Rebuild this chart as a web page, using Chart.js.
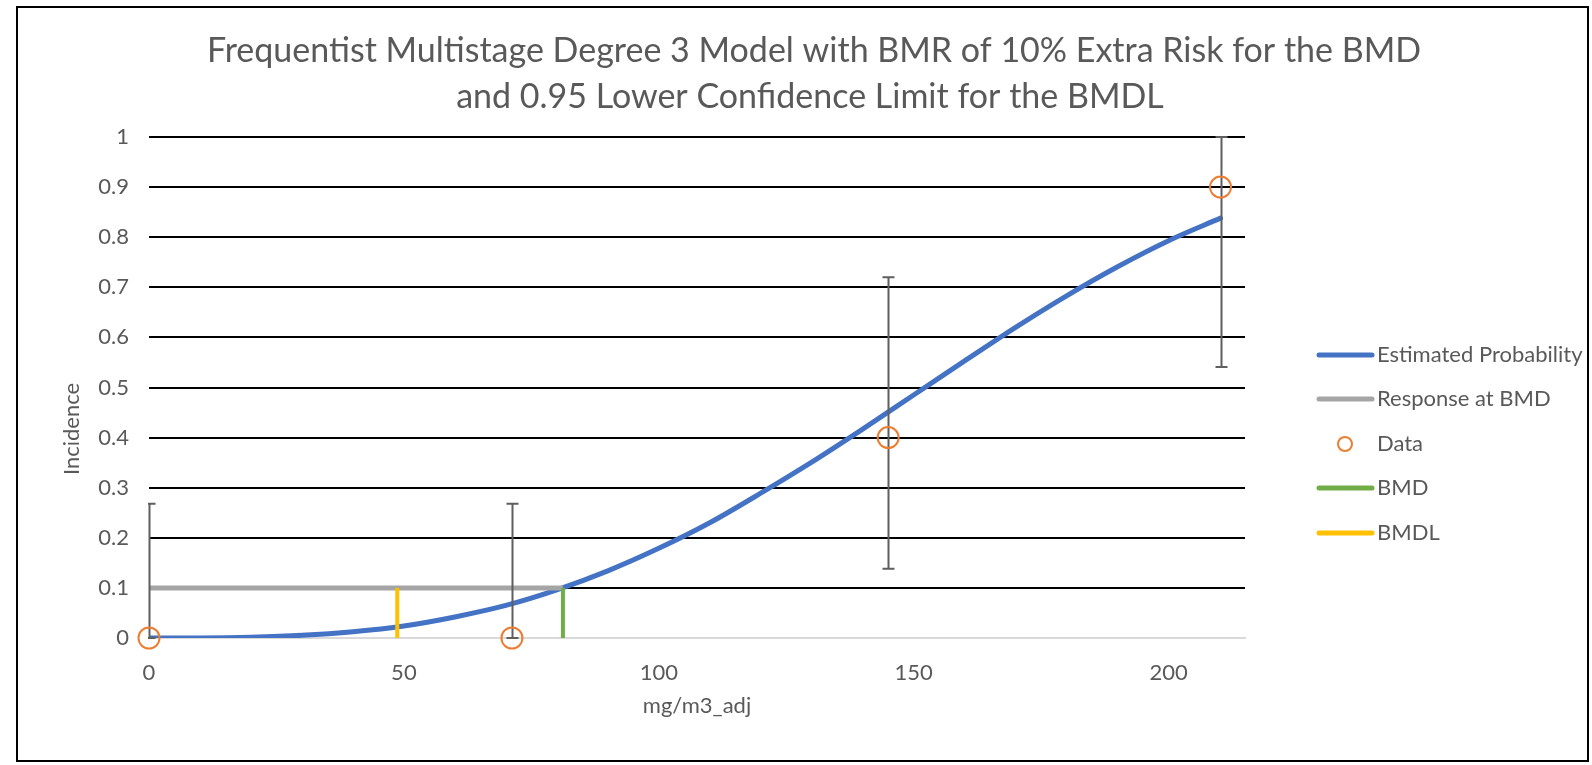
<!DOCTYPE html>
<html><head><meta charset="utf-8">
<script src="https://cdn.jsdelivr.net/npm/chart.js@4.4.1/dist/chart.umd.min.js"></script>
<style>html,body{margin:0;padding:0;background:#fff;}canvas{display:block;}</style>
</head><body>
<canvas id="c" width="1592" height="765"></canvas>
<script>
// ---- data ----
const titleLines = ["Frequentist Multistage Degree 3 Model with BMR of 10% Extra Risk for the BMD", "and 0.95 Lower Confidence Limit for the BMDL"];
const xTitle = "mg/m3_adj";
const yTitle = "Incidence";
const seriesNames = ["Estimated Probability", "Response at BMD", "Data", "BMD", "BMDL"];
const curveDose = [0, 10, 20, 30, 40, 50, 60, 70, 80, 90, 100, 110, 120, 130, 140, 150, 160, 170, 180, 190, 200, 210.2];
const curveProb = [0, 0.0002, 0.0016, 0.0053, 0.0125, 0.024, 0.042, 0.065, 0.096, 0.134, 0.179, 0.230, 0.289, 0.351, 0.417, 0.485, 0.553, 0.620, 0.683, 0.741, 0.793, 0.838];
const dataDose = [0, 71.2, 145, 210.2];
const dataIncidence = [0, 0, 0.4, 0.9];
const errLower = [0, 0, 0.138, 0.541];
const errUpper = [0.268, 0.268, 0.72, 1.0];
const bmd = 81.2;
const bmdl = 48.7;
const bmr = 0.1;
const xTicks = [0, 50, 100, 150, 200];
const yTicks = [0, 0.1, 0.2, 0.3, 0.4, 0.5, 0.6, 0.7, 0.8, 0.9, 1];
const colors = ["#4472C4", "#A5A5A5", "#ED7D31", "#70AD47", "#FFC000"];

const FONT = "Lato";
const TXT = "#595959";

const errorBarPlugin = {
  id: 'errbars',
  beforeDatasetDraw(chart, args) {
    if (args.index !== 2) return;
    const {ctx, chartArea} = chart;
    const xs = chart.scales.x, ys = chart.scales.y;
    ctx.save();
    ctx.beginPath();
    ctx.rect(chartArea.left - 1, 0, chartArea.right - chartArea.left + 2, chart.height);
    ctx.clip();
    ctx.strokeStyle = "#5f5f5f";
    ctx.lineWidth = 2;
    dataDose.forEach((d, i) => {
      const x = Math.round(xs.getPixelForValue(d)) + 0.5;
      const y1 = ys.getPixelForValue(errLower[i]);
      const y2 = ys.getPixelForValue(errUpper[i]);
      ctx.beginPath();
      ctx.moveTo(x, y1); ctx.lineTo(x, y2);
      ctx.moveTo(x - 6, y1); ctx.lineTo(x + 6, y1);
      ctx.moveTo(x - 6, y2); ctx.lineTo(x + 6, y2);
      ctx.stroke();
    });
    ctx.restore();
  }
};

const decorPlugin = {
  id: 'decor',
  afterDraw(chart) {
    const ctx = chart.ctx;
    const ca = chart.chartArea;
    ctx.save();
    // border
    ctx.strokeStyle = "#000";
    ctx.lineWidth = 2;
    ctx.strokeRect(17, 7, 1571, 754);
    // title
    ctx.fillStyle = TXT;
    ctx.font = "34px " + FONT;
    ctx.textAlign = "center";
    ctx.textBaseline = "alphabetic";
    ctx.fillText(titleLines[0], 814, 62);
    ctx.fillText(titleLines[1], 810, 108);
    // axis titles
    ctx.font = "22px " + FONT;
    ctx.textBaseline = "middle";
    ctx.fillText(xTitle, (ca.left + ca.right) / 2, 706);
    ctx.save();
    ctx.translate(72, 429);
    ctx.rotate(-Math.PI / 2);
    ctx.fillText(yTitle, 0, 0);
    ctx.restore();
    // legend
    const ys = [355, 399, 444, 488, 533];
    ctx.font = "22px " + FONT;
    ctx.textAlign = "left";
    ctx.textBaseline = "middle";
    seriesNames.forEach((name, i) => {
      const y = ys[i];
      if (i === 2) {
        ctx.strokeStyle = colors[i];
        ctx.lineWidth = 2;
        ctx.beginPath();
        ctx.arc(1345, y, 7, 0, Math.PI * 2);
        ctx.stroke();
      } else {
        ctx.strokeStyle = colors[i];
        ctx.lineWidth = 5;
        ctx.lineCap = "round";
        ctx.beginPath();
        ctx.moveTo(1319, y); ctx.lineTo(1372, y);
        ctx.stroke();
      }
      ctx.fillStyle = TXT;
      ctx.fillText(name, 1377, y);
    });
    ctx.restore();
  }
};

new Chart(document.getElementById('c'), {
  type: 'line',
  data: {
    datasets: [
      { label: seriesNames[0], data: curveDose.map((x, i) => ({x, y: curveProb[i]})), borderColor: colors[0], borderWidth: 5, pointRadius: 0, cubicInterpolationMode: 'monotone', order: 5, borderCapStyle: 'round' },
      { label: seriesNames[1], data: [{x: 0, y: bmr}, {x: bmd, y: bmr}], borderColor: colors[1], borderWidth: 5, pointRadius: 0, order: 4 },
      { label: seriesNames[2], data: dataDose.map((x, i) => ({x, y: dataIncidence[i]})), showLine: false, borderColor: colors[2], backgroundColor: 'rgba(0,0,0,0)', pointRadius: 10.5, pointBorderWidth: 2, pointStyle: 'circle', order: 1, clip: false },
      { label: seriesNames[3], data: [{x: bmd, y: 0}, {x: bmd, y: bmr}], borderColor: colors[3], borderWidth: 4, pointRadius: 0, order: 3, borderCapStyle: 'butt' },
      { label: seriesNames[4], data: [{x: bmdl, y: 0}, {x: bmdl, y: bmr}], borderColor: colors[4], borderWidth: 4, pointRadius: 0, order: 2, borderCapStyle: 'butt' }
    ]
  },
  options: {
    responsive: false,
    animation: false,
    events: [],
    layout: { padding: { left: 16, top: 137, right: 347, bottom: 5 } },
    plugins: { legend: { display: false }, title: { display: false }, tooltip: { enabled: false } },
    scales: {
      x: {
        type: 'linear', min: 0, max: 215,
        afterBuildTicks: s => { s.ticks = xTicks.map(v => ({value: v})); },
        afterFit: s => { s.height = 122; },
        grid: { display: false, drawTicks: false },
        border: { display: true, color: '#d9d9d9', width: 2 },
        ticks: { padding: 22, color: TXT, font: { family: FONT, size: 22 }, callback: v => String(v) },
        title: { display: false }
      },
      y: {
        type: 'linear', min: 0, max: 1,
        afterBuildTicks: s => { s.ticks = yTicks.map(v => ({value: v})); },
        afterFit: s => { s.width = 133; },
        grid: { drawTicks: false, lineWidth: 2, color: c => (c.tick && c.tick.value === 0) ? '#d9d9d9' : '#000' },
        border: { display: false },
        ticks: { padding: 20, color: TXT, font: { family: FONT, size: 22 }, callback: v => String(Math.round(v * 10) / 10) },
        title: { display: false }
      }
    }
  },
  plugins: [errorBarPlugin, decorPlugin]
});
</script>
</body></html>
